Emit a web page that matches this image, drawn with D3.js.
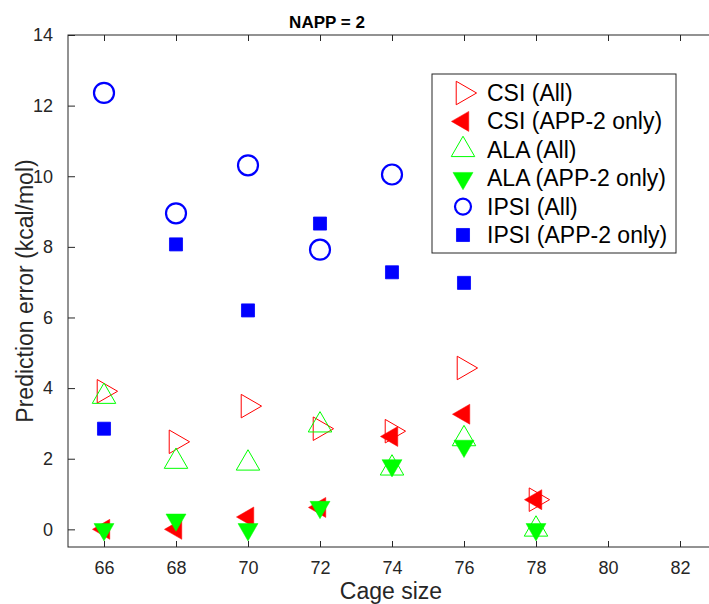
<!DOCTYPE html>
<html>
<head>
<meta charset="utf-8">
<script src="https://cdn.jsdelivr.net/npm/d3@7"></script>
<style>
  body { margin: 0; background: #fff; }
  svg { font-family: "Liberation Sans", Arial, Helvetica, sans-serif; }
</style>
</head>
<body>
<svg width="709" height="604"></svg>
<script>
// **** Data ****
var cageSizes = [66, 68, 70, 72, 74, 76, 78];
var csiAll   = [3.91, 2.48, 3.49, 2.85, 2.78, 4.57, 0.84];
var csiApp2  = [0, 0, 0.35, 0.62, 2.63, 3.26, 0.84];
var alaAll   = [3.76, 1.92, 1.87, 2.95, 1.73, 2.56, 0];
var alaApp2  = [0, 0.27, 0, 0.63, 1.81, 2.36, 0];
var ipsiAll  = [12.36, 8.95, 10.31, 7.92, 10.05, null, null];
var ipsiApp2 = [2.85, 8.07, 6.2, 8.66, 7.28, 6.98, null];

var xTicks = [66, 68, 70, 72, 74, 76, 78, 80, 82];
var yTicks = [0, 2, 4, 6, 8, 10, 12, 14];

var seriesNames = ["CSI (All)", "CSI (APP-2 only)", "ALA (All)", "ALA (APP-2 only)", "IPSI (All)", "IPSI (APP-2 only)"];
var seriesValues = [csiAll, csiApp2, alaAll, alaApp2, ipsiAll, ipsiApp2];

// **** Marker styles (MATLAB-like) ****
var red = "#ff0000", green = "#00ff00", blue = "#0000ff";
var triOpen = Math.sqrt(3) / 4 * 23.5 * 23.5;
var triFill = Math.sqrt(3) / 4 * 20 * 20;
var styles = [
    { type: d3.symbolTriangle, size: triOpen, rot: 90,  fill: "none", stroke: red,  sw: 1 },
    { type: d3.symbolTriangle, size: triFill, rot: -90, fill: red,    stroke: red,  sw: 0.5 },
    { type: d3.symbolTriangle, size: triOpen, rot: 0,   fill: "none", stroke: green, sw: 1 },
    { type: d3.symbolTriangle, size: triFill, rot: 180, fill: green,  stroke: green, sw: 0.5 },
    { type: d3.symbolCircle,   size: Math.PI * 100, rot: 0, fill: "none", stroke: blue, sw: 2.2 },
    { type: d3.symbolSquare,   size: 170, rot: 0,   fill: blue,   stroke: blue, sw: 0.8 }
];

// **** Scales ****
var plotLeft = 68, plotRight = 716, plotTop = 35, plotBottom = 547;
var xScale = d3.scaleLinear().domain([65, 83]).range([plotLeft, plotRight]);
var yScale = d3.scaleLinear().domain([-0.5, 14]).range([plotBottom, plotTop]);

var svg = d3.select("svg");
var axisColor = "#262626";

// box
svg.append("rect")
    .attr("x", plotLeft).attr("y", plotTop)
    .attr("width", plotRight - plotLeft).attr("height", plotBottom - plotTop)
    .attr("fill", "none").attr("stroke", axisColor).attr("stroke-width", 1);

// axes (ticks inside, box ticks on top/right too)
function styleAxis(g) {
    g.select(".domain").remove();
    g.selectAll(".tick line").attr("stroke", axisColor);
    g.selectAll(".tick text").attr("fill", axisColor).style("font-size", "18px");
}

svg.append("g").attr("class", "x axis")
    .attr("transform", "translate(0," + plotBottom + ")")
    .call(d3.axisBottom(xScale).tickValues(xTicks).tickSizeInner(-6).tickSizeOuter(0).tickPadding(14).tickFormat(d => d))
    .call(styleAxis);

svg.append("g").attr("class", "x axis top")
    .attr("transform", "translate(0," + plotTop + ")")
    .call(d3.axisTop(xScale).tickValues(xTicks).tickSizeInner(-6).tickSizeOuter(0).tickFormat(""))
    .call(styleAxis);

svg.append("g").attr("class", "y axis")
    .attr("transform", "translate(" + plotLeft + ",0)")
    .call(d3.axisLeft(yScale).tickValues(yTicks).tickSizeInner(-7).tickSizeOuter(0).tickPadding(15))
    .call(styleAxis);

svg.append("g").attr("class", "y axis right")
    .attr("transform", "translate(" + plotRight + ",0)")
    .call(d3.axisRight(yScale).tickValues(yTicks).tickSizeInner(-7).tickSizeOuter(0).tickFormat(""))
    .call(styleAxis);

// labels
svg.append("text")
    .attr("text-anchor", "middle")
    .attr("x", 391).attr("y", 599)
    .style("font-size", "23px").attr("fill", axisColor)
    .text("Cage size");

svg.append("text")
    .attr("text-anchor", "middle")
    .attr("transform", "translate(33,291) rotate(-90)")
    .style("font-size", "23px").attr("fill", axisColor)
    .text("Prediction error (kcal/mol)");

svg.append("text")
    .attr("text-anchor", "middle")
    .attr("x", 327).attr("y", 28)
    .style("font-size", "17px").style("font-weight", "bold")
    .text("NAPP = 2");

// **** Points ****
function symbolPath(st) {
    return d3.symbol().type(st.type).size(st.size)();
}

seriesValues.forEach(function(vals, i) {
    var st = styles[i];
    var pts = cageSizes.map((c, j) => ({ x: c, y: vals[j] })).filter(d => d.y !== null);
    svg.append("g").attr("class", "series s" + i)
        .selectAll("path")
        .data(pts)
        .enter()
        .append("path")
        .attr("d", symbolPath(st))
        .attr("transform", d => `translate(${xScale(d.x)},${yScale(d.y)}) rotate(${st.rot})`)
        .attr("fill", st.fill)
        .attr("stroke", st.stroke)
        .attr("stroke-width", st.sw)
        .attr("stroke-linejoin", "miter");
});

// **** Legend ****
var legend = svg.append("g").attr("class", "legend");
legend.append("rect")
    .attr("x", 432).attr("y", 74)
    .attr("width", 244).attr("height", 179)
    .attr("fill", "#fff").attr("stroke", axisColor).attr("stroke-width", 1);

var rowY = d3.scaleLinear().domain([0, 5]).range([93, 235]);
seriesNames.forEach(function(name, i) {
    var st = styles[i];
    var size = st.type === d3.symbolCircle ? Math.PI * 64 : st.size;
    legend.append("path")
        .attr("d", d3.symbol().type(st.type).size(size)())
        .attr("transform", `translate(463,${rowY(i)}) rotate(${st.rot})`)
        .attr("fill", st.fill)
        .attr("stroke", st.stroke)
        .attr("stroke-width", st.sw);
    legend.append("text")
        .attr("x", 487).attr("y", rowY(i))
        .attr("dy", "0.35em")
        .style("font-size", "23px")
        .text(name);
});
</script>
</body>
</html>
